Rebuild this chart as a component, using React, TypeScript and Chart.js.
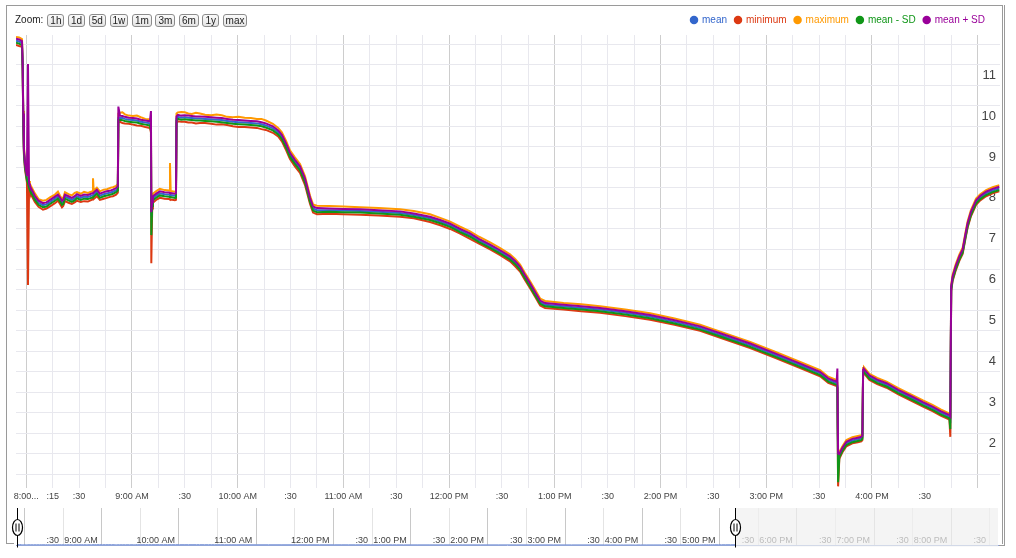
import React, { useEffect, useRef } from "react";
import { Chart, registerables } from "chart.js";

Chart.register(...registerables);

const FONT = 'Arial, "Liberation Sans", sans-serif';

// time in minutes since midnight
const TIME_MIN = [
  474.2, 476.0, 477.6, 478.0, 478.3, 478.7, 479.3, 480.4, 481.0, 481.6,
  482.1, 484.9, 487.0, 489.5, 491.5, 493.5, 496.3, 498.0, 499.2, 500.3,
  501.0, 502.0, 504.0, 505.9, 507.5, 508.8, 511.0, 512.8, 515.0, 517.5, 517.9, 518.3,
  520.1, 521.8, 524.0, 525.8, 528.0, 529.2, 531.0, 532.0, 532.3, 533.2, 534.6,
  536.0, 538.2, 540.6, 542.8, 545.0, 547.6, 550.2, 550.8, 551.0, 551.5, 551.9, 554.0, 555.9,
  558.5, 561.2, 561.6, 562.0, 564.4, 565.0, 565.3, 566.1, 568.0, 570.0, 572.0, 574.0, 576.3, 578.6, 581.5, 585.0, 588.0,
  591.0, 594.0, 597.3, 600.5, 604.0, 607.5, 610.9, 613.5, 616.0, 620.0, 623.0, 625.1, 627.5, 629.7,
  632.5, 635.4, 638.2, 641.1, 642.8, 645.0, 652.0, 660.0, 669.5, 680.0,
  692.2, 700.0, 709.2, 715.0, 720.6, 726.0, 731.9, 737.0, 743.3, 749.0,
  754.6, 757.5, 760.3, 763.0, 766.0, 769.0, 771.7, 774.5, 785.0, 795.0,
  805.7, 820.0, 834.1, 848.0, 862.5, 876.0, 890.9, 905.0, 919.3, 930.6,
  935.2, 940.0, 940.4, 940.8, 941.5, 943.1, 945.5, 948.9, 952.0, 954.0,
  954.6, 955.0, 955.5, 958.6, 963.0, 968.3, 975.0, 983.0, 989.0, 994.4,
  999.0, 1004.0, 1004.5, 1005.0, 1005.8, 1007.6, 1009.6, 1011.5, 1013.0, 1014.3,
  1016.2, 1019.1, 1021.5, 1024.8, 1028.5, 1032.3,
];

const MEAN = [
  11.84, 11.82, 11.78, 11.20, 10.00, 9.15, 8.80, 8.48, 8.40, 8.30,
  8.24, 8.00, 7.88, 7.82, 7.84, 7.90, 7.98, 8.03, 7.96, 7.88,
  7.90, 8.03, 7.99, 7.95, 7.99, 8.04, 8.00, 8.03, 8.02, 8.06, 8.07, 8.08,
  8.15, 8.05, 8.09, 8.11, 8.13, 8.15, 8.19, 8.23, 9.95, 9.96, 9.95,
  9.93, 9.91, 9.90, 9.89, 9.86, 9.84, 9.82, 9.70, 7.55, 7.85, 7.99, 8.06, 8.11,
  8.09, 8.08, 8.07, 8.07, 8.05, 8.06, 9.94, 9.98, 9.96, 9.97, 9.96, 9.95, 9.94, 9.94, 9.93, 9.92, 9.91,
  9.90, 9.88, 9.86, 9.85, 9.84, 9.83, 9.82, 9.80, 9.77, 9.70, 9.60, 9.49, 9.28, 9.05,
  8.88, 8.72, 8.43, 7.95, 7.74, 7.70, 7.70, 7.69, 7.68, 7.66,
  7.63, 7.58, 7.50, 7.42, 7.33, 7.21, 7.09, 6.96, 6.82, 6.68,
  6.53, 6.42, 6.28, 6.08, 5.87, 5.65, 5.45, 5.39, 5.35, 5.31,
  5.27, 5.19, 5.10, 4.97, 4.82, 4.62, 4.40, 4.16, 3.91, 3.71,
  3.55, 3.47, 3.40, 1.55, 1.70, 1.84, 2.00, 2.07, 2.10, 2.12,
  2.15, 3.76, 3.78, 3.62, 3.52, 3.43, 3.27, 3.10, 2.97, 2.86,
  2.75, 2.65, 2.60, 5.79, 6.04, 6.30, 6.53, 6.70, 7.05, 7.34,
  7.62, 7.90, 8.01, 8.11, 8.18, 8.23,
];

const MINIMUM = [
  11.74, 11.71, 11.69, 11.10, 9.90, 9.05, 8.70, 8.38, 5.87, 8.20,
  8.13, 7.90, 7.78, 7.71, 7.74, 7.79, 7.87, 7.93, 7.85, 7.77,
  7.80, 7.92, 7.88, 7.85, 7.89, 7.93, 7.90, 7.92, 7.91, 7.96, 7.97, 7.97,
  8.04, 7.95, 7.98, 8.00, 8.03, 8.04, 8.08, 8.13, 9.84, 9.86, 9.83,
  9.82, 9.81, 9.79, 9.77, 9.76, 9.73, 9.71, 9.60, 6.40, 7.74, 7.88, 7.96, 8.00,
  7.98, 7.97, 7.96, 7.96, 7.94, 7.95, 9.83, 9.87, 9.86, 9.86, 9.84, 9.84, 9.82, 9.83, 9.83, 9.81, 9.79,
  9.80, 9.78, 9.75, 9.73, 9.73, 9.72, 9.71, 9.68, 9.66, 9.59, 9.50, 9.38, 9.17, 8.95,
  8.77, 8.61, 8.32, 7.85, 7.64, 7.60, 7.61, 7.60, 7.59, 7.57,
  7.54, 7.50, 7.41, 7.33, 7.24, 7.13, 7.00, 6.88, 6.74, 6.60,
  6.45, 6.33, 6.20, 6.00, 5.79, 5.57, 5.37, 5.31, 5.27, 5.23,
  5.19, 5.11, 5.02, 4.90, 4.75, 4.55, 4.33, 4.09, 3.84, 3.64,
  3.48, 3.40, 3.33, 0.95, 1.62, 1.77, 1.93, 2.00, 2.03, 2.05,
  2.08, 3.69, 3.71, 3.55, 3.45, 3.36, 3.20, 3.03, 2.90, 2.79,
  2.68, 2.58, 2.16, 5.72, 5.97, 6.23, 6.46, 6.63, 6.98, 7.27,
  7.55, 7.83, 7.94, 8.04, 8.11, 8.16,
];

const MAXIMUM = [
  11.93, 11.92, 11.88, 11.30, 10.12, 9.25, 8.90, 8.58, 8.50, 8.41,
  8.34, 8.11, 7.97, 7.93, 7.95, 8.01, 8.08, 8.15, 8.05, 7.98,
  8.00, 8.14, 8.09, 8.06, 8.12, 8.14, 8.10, 8.15, 8.12, 8.16, 8.48, 8.18,
  8.25, 8.16, 8.20, 8.21, 8.25, 8.26, 8.29, 8.34, 10.06, 10.08, 10.09,
  10.04, 10.01, 10.00, 10.01, 9.97, 9.93, 9.92, 9.80, 7.75, 7.95, 8.10, 8.17, 8.22,
  8.19, 8.18, 8.85, 8.17, 8.15, 8.16, 10.06, 10.09, 10.10, 10.09, 10.06, 10.05, 10.08, 10.06, 10.03, 10.02, 10.04,
  10.02, 9.98, 9.97, 9.98, 9.96, 9.95, 9.93, 9.93, 9.89, 9.81, 9.71, 9.60, 9.39, 9.16,
  8.99, 8.83, 8.53, 8.05, 7.84, 7.81, 7.80, 7.79, 7.77, 7.75,
  7.72, 7.68, 7.60, 7.51, 7.42, 7.30, 7.18, 7.05, 6.91, 6.77,
  6.62, 6.51, 6.37, 6.17, 5.96, 5.74, 5.54, 5.48, 5.43, 5.40,
  5.35, 5.27, 5.18, 5.05, 4.90, 4.70, 4.48, 4.24, 3.99, 3.79,
  3.63, 3.55, 3.48, 1.85, 1.78, 1.92, 2.08, 2.15, 2.18, 2.20,
  2.23, 3.84, 3.86, 3.70, 3.60, 3.51, 3.35, 3.18, 3.05, 2.94,
  2.83, 2.73, 2.70, 5.87, 6.12, 6.38, 6.61, 6.78, 7.13, 7.42,
  7.70, 7.98, 8.09, 8.19, 8.26, 8.31,
];

const MEAN_MINUS_SD = [
  11.79, 11.77, 11.73, 11.15, 9.95, 9.10, 8.75, 8.43, 8.35, 8.25,
  8.19, 7.95, 7.83, 7.77, 7.79, 7.85, 7.93, 7.98, 7.91, 7.83,
  7.85, 7.98, 7.94, 7.90, 7.94, 7.99, 7.95, 7.98, 7.97, 8.01, 8.02, 8.03,
  8.10, 8.00, 8.04, 8.06, 8.08, 8.10, 8.14, 8.18, 9.90, 9.91, 9.90,
  9.88, 9.86, 9.85, 9.84, 9.81, 9.79, 9.77, 9.65, 7.09, 7.80, 7.94, 8.01, 8.06,
  8.04, 8.03, 8.02, 8.02, 8.00, 8.01, 9.89, 9.93, 9.91, 9.92, 9.91, 9.90, 9.89, 9.89, 9.88, 9.87, 9.86,
  9.85, 9.83, 9.81, 9.80, 9.79, 9.78, 9.77, 9.75, 9.72, 9.65, 9.55, 9.44, 9.23, 9.00,
  8.83, 8.67, 8.38, 7.90, 7.69, 7.65, 7.66, 7.65, 7.64, 7.62,
  7.59, 7.54, 7.46, 7.38, 7.29, 7.17, 7.05, 6.92, 6.78, 6.64,
  6.49, 6.38, 6.24, 6.04, 5.83, 5.61, 5.41, 5.35, 5.31, 5.27,
  5.23, 5.15, 5.06, 4.93, 4.78, 4.58, 4.36, 4.12, 3.87, 3.67,
  3.51, 3.43, 3.36, 1.05, 1.66, 1.80, 1.96, 2.03, 2.06, 2.08,
  2.11, 3.72, 3.74, 3.58, 3.48, 3.39, 3.23, 3.06, 2.93, 2.82,
  2.71, 2.61, 2.35, 5.75, 6.00, 6.26, 6.49, 6.66, 7.01, 7.30,
  7.58, 7.86, 7.97, 8.07, 8.14, 8.19,
];

const MEAN_PLUS_SD = [
  11.89, 11.87, 11.83, 11.25, 10.06, 9.20, 8.85, 8.53, 11.27, 8.35,
  8.29, 8.05, 7.93, 7.87, 7.89, 7.95, 8.03, 8.08, 8.01, 7.93,
  7.95, 8.08, 8.04, 8.00, 8.04, 8.09, 8.05, 8.08, 8.07, 8.11, 8.12, 8.13,
  8.20, 8.10, 8.14, 8.16, 8.18, 8.20, 8.24, 8.28, 10.23, 10.01, 10.00,
  9.98, 9.96, 9.95, 9.94, 9.91, 9.89, 9.87, 10.12, 7.65, 7.90, 8.04, 8.11, 8.16,
  8.14, 8.13, 8.12, 8.12, 8.10, 8.11, 9.99, 10.03, 10.01, 10.02, 10.01, 10.00, 9.99, 9.99, 9.98, 9.97, 9.96,
  9.95, 9.93, 9.91, 9.90, 9.89, 9.88, 9.87, 9.85, 9.82, 9.75, 9.65, 9.54, 9.33, 9.10,
  8.93, 8.77, 8.48, 8.00, 7.79, 7.75, 7.74, 7.73, 7.72, 7.70,
  7.67, 7.62, 7.54, 7.46, 7.37, 7.25, 7.13, 7.00, 6.86, 6.72,
  6.57, 6.46, 6.32, 6.12, 5.91, 5.69, 5.49, 5.43, 5.39, 5.35,
  5.31, 5.23, 5.14, 5.01, 4.86, 4.66, 4.44, 4.20, 3.95, 3.75,
  3.59, 3.51, 3.83, 1.75, 1.74, 1.88, 2.04, 2.11, 2.14, 2.16,
  2.19, 3.80, 3.82, 3.66, 3.56, 3.47, 3.31, 3.14, 3.01, 2.90,
  2.79, 2.69, 2.66, 5.83, 6.08, 6.34, 6.57, 6.74, 7.09, 7.38,
  7.66, 7.94, 8.05, 8.15, 8.22, 8.27,
];

const SERIES_NAMES = ["mean", "minimum", "maximum", "mean - SD", "mean + SD"];
const SERIES_COLORS = ["#3366cc", "#dc3912", "#ff9900", "#109618", "#990099"];

// main x axis labels (minutes since midnight -> text)
const MAIN_X_LABELS: [number, string][] = [
  [480, "8:00..."], [495, ":15"], [510, ":30"], [540, "9:00 AM"], [570, ":30"],
  [600, "10:00 AM"], [630, ":30"], [660, "11:00 AM"], [690, ":30"], [720, "12:00 PM"],
  [750, ":30"], [780, "1:00 PM"], [810, ":30"], [840, "2:00 PM"], [870, ":30"],
  [900, "3:00 PM"], [930, ":30"], [960, "4:00 PM"], [990, ":30"],
];

// navigator labels
const NAV_X_LABELS: [number, string][] = [
  [510, ":30"], [540, "9:00 AM"], [600, "10:00 AM"], [660, "11:00 AM"], [720, "12:00 PM"],
  [750, ":30"], [780, "1:00 PM"], [810, ":30"], [840, "2:00 PM"], [870, ":30"],
  [900, "3:00 PM"], [930, ":30"], [960, "4:00 PM"], [990, ":30"], [1020, "5:00 PM"],
  [1050, ":30"], [1080, "6:00 PM"], [1110, ":30"], [1140, "7:00 PM"], [1170, ":30"],
  [1200, "8:00 PM"], [1230, ":30"],
];

const Y_LABELS = [2, 3, 4, 5, 6, 7, 8, 9, 10, 11];
const ZOOM_BUTTONS = ["1h", "1d", "5d", "1w", "1m", "3m", "6m", "1y", "max"];

const MAIN_X_MIN = 474.2;
const MAIN_X_MAX = 1032.7;
const NAV_X_MIN = 473.4;
const NAV_X_MAX = 1236.3;

function range(a: number, b: number, step: number) {
  const out: number[] = [];
  for (let v = a; v <= b + 1e-9; v += step) out.push(Math.round(v * 100) / 100);
  return out;
}

const legendShift = {
  id: "legendShift",
  afterLayout(chart: any) {
    if (chart.legend) chart.legend.right = chart.chartArea.right - 7;
  },
};

const navOverlay = {
  id: "navOverlay",
  afterDraw(chart: any) {
    const { ctx, chartArea, scales } = chart;
    const xs = scales.x.getPixelForValue(TIME_MIN[0]);
    const xe = scales.x.getPixelForValue(TIME_MIN[TIME_MIN.length - 1]);
    ctx.save();
    ctx.fillStyle = "rgba(240,240,240,0.7)";
    ctx.fillRect(xe, chartArea.top, chartArea.right - xe, chartArea.bottom - chartArea.top + 1.5);
    for (const hx of [xs, xe]) {
      const px = Math.round(hx) + 0.5;
      ctx.strokeStyle = "#000";
      ctx.lineWidth = 1;
      ctx.beginPath();
      ctx.moveTo(px, chartArea.top);
      ctx.lineTo(px, chartArea.bottom + 2.5);
      ctx.stroke();
      const cy = chartArea.top + 19.5;
      ctx.beginPath();
      ctx.ellipse(px, cy, 5, 8, 0, 0, Math.PI * 2);
      ctx.fillStyle = "#fff";
      ctx.fill();
      ctx.lineWidth = 1.2;
      ctx.stroke();
      ctx.lineWidth = 1;
      ctx.beginPath();
      ctx.moveTo(px - 1.5, cy - 4);
      ctx.lineTo(px - 1.5, cy + 4);
      ctx.moveTo(px + 1.5, cy - 4);
      ctx.lineTo(px + 1.5, cy + 4);
      ctx.stroke();
    }
    ctx.restore();
  },
};

export default function App() {
  const mainRef = useRef<HTMLCanvasElement | null>(null);
  const navRef = useRef<HTMLCanvasElement | null>(null);

  useEffect(() => {
    const seriesValues = [MEAN, MINIMUM, MAXIMUM, MEAN_MINUS_SD, MEAN_PLUS_SD];
    const pts = (ys: number[]) => TIME_MIN.map((t, i) => ({ x: t, y: ys[i] }));
    // drawn top-first: mean + SD, mean - SD, mean, minimum, maximum
    const drawOrder = [4, 3, 0, 1, 2];
    const mainLabelMap = new Map(MAIN_X_LABELS.map(([v, s]) => [v, s]));
    const navLabelMap = new Map(NAV_X_LABELS.map(([v, s]) => [v, s]));

    const main = new Chart(mainRef.current as HTMLCanvasElement, {
      type: "line",
      data: {
        datasets: drawOrder.map((i) => ({
          label: SERIES_NAMES[i],
          data: pts(seriesValues[i]),
          borderColor: SERIES_COLORS[i],
          backgroundColor: SERIES_COLORS[i],
          borderWidth: 2,
          pointRadius: 0,
          tension: 0,
          fill: false,
        })),
      },
      options: {
        animation: false,
        responsive: false,
        events: [],
        layout: { padding: { left: 16, right: 16, top: 7, bottom: 0 }, autoPadding: false },
        plugins: {
          tooltip: { enabled: false },
          legend: {
            display: true,
            position: "top",
            align: "end",
            fullSize: false,
            labels: {
              usePointStyle: true,
              pointStyle: "circle",
              boxWidth: 6,
              boxHeight: 6,
              padding: 8,
              font: { size: 10, family: FONT },
              generateLabels: () =>
                SERIES_NAMES.map((name, i) => ({
                  text: name,
                  fillStyle: SERIES_COLORS[i],
                  strokeStyle: SERIES_COLORS[i],
                  fontColor: SERIES_COLORS[i],
                  lineWidth: 0,
                  pointStyle: "circle",
                  hidden: false,
                  datasetIndex: drawOrder.indexOf(i),
                })),
            },
          },
        },
        scales: {
          x: {
            type: "linear",
            min: MAIN_X_MIN,
            max: MAIN_X_MAX,
            afterBuildTicks: (scale: any) => {
              scale.ticks = range(480, 1020, 15).map((v) => ({ value: v }));
            },
            grid: {
              color: (ctx: any) => (ctx.tick && ctx.tick.value % 60 === 0 ? "#cdcdcd" : "#e8e8ee"),
              drawTicks: false,
              lineWidth: 1,
            },
            border: { display: false },
            ticks: {
              autoSkip: false,
              maxRotation: 0,
              minRotation: 0,
              padding: 3.6,
              color: "#444",
              font: { size: 9, family: FONT },
              callback: (v: any) => mainLabelMap.get(Number(v)) ?? "",
            },
          },
          y: {
            type: "linear",
            position: "right",
            min: 0.91,
            max: 11.98,
            afterBuildTicks: (scale: any) => {
              scale.ticks = range(1.25, 11.75, 0.25).map((v) => ({ value: v }));
            },
            grid: {
              color: (ctx: any) => {
                const v = ctx.tick ? ctx.tick.value : 0;
                const q = Math.round(v * 4);
                return q % 2 === 1 ? "#e8e8ee" : "rgba(0,0,0,0)";
              },
              drawTicks: false,
              lineWidth: 1,
            },
            border: { display: false },
            ticks: {
              autoSkip: false,
              mirror: true,
              padding: -4,
              color: "#444",
              font: { size: 13, family: FONT },
              callback: (v: any) => {
                const n = Number(v);
                return Y_LABELS.includes(n) ? String(n) : "";
              },
            },
          },
        },
      } as any,
      plugins: [legendShift],
    });

    const nav = new Chart(navRef.current as HTMLCanvasElement, {
      type: "line",
      data: {
        datasets: [
          {
            label: SERIES_NAMES[0],
            data: pts(MEAN),
            borderColor: "#7f99d8",
            borderWidth: 1,
            pointRadius: 0,
            tension: 0,
            fill: false,
          },
        ],
      },
      options: {
        animation: false,
        responsive: false,
        events: [],
        layout: { padding: { left: 16, right: 18, top: 5, bottom: 5 }, autoPadding: false },
        plugins: { legend: { display: false }, tooltip: { enabled: false } },
        scales: {
          x: {
            type: "linear",
            min: NAV_X_MIN,
            max: NAV_X_MAX,
            afterBuildTicks: (scale: any) => {
              scale.ticks = range(480, 1230, 30).map((v) => ({ value: v }));
            },
            grid: {
              color: (ctx: any) => (ctx.tick && ctx.tick.value % 60 === 0 ? "#c8c8c8" : "#e4e4e4"),
              drawTicks: false,
            },
            border: { display: true, color: "#8ea3d8", width: 1 },
            ticks: {
              autoSkip: false,
              maxRotation: 0,
              minRotation: 0,
              align: "end",
              labelOffset: -4,
              padding: -9.4,
              color: "#444",
              font: { size: 9, family: FONT },
              callback: (v: any) => navLabelMap.get(Number(v)) ?? "",
            },
          },
          y: { display: false, min: 0, max: 1000 },
        },
      } as any,
      plugins: [navOverlay],
    });

    return () => {
      main.destroy();
      nav.destroy();
    };
  }, []);

  const frame = "#9a9a9a";
  return (
    <div style={{ position: "absolute", left: 0, top: 0, width: 1016, height: 558, background: "#fff", fontFamily: FONT, overflow: "hidden" }}>
      {/* outer frame */}
      <div style={{ position: "absolute", left: 6, top: 5, width: 995, height: 538, borderLeft: `1px solid ${frame}`, borderTop: `1px solid ${frame}`, borderRight: `1px solid ${frame}` }} />
      <div style={{ position: "absolute", left: 1004, top: 5, width: 1, height: 541, background: frame }} />
      <div style={{ position: "absolute", left: 6, top: 543, width: 8, height: 1, background: frame }} />
      <div style={{ position: "absolute", left: 999, top: 545, width: 6, height: 1, background: frame }} />

      <canvas ref={mainRef} width={1016} height={506} style={{ position: "absolute", left: 0, top: 0, width: 1016, height: 506 }} />
      <canvas ref={navRef} width={1016} height={47} style={{ position: "absolute", left: 0, top: 503, width: 1016, height: 47 }} />

      {/* zoom buttons */}
      <div style={{ position: "absolute", left: 15, top: 13, height: 14, display: "flex", alignItems: "center", fontSize: 10, color: "#222" }}>
        <span style={{ marginRight: 4, lineHeight: "12px" }}>Zoom:</span>
        {ZOOM_BUTTONS.map((b) => (
          <span
            key={b}
            style={{
              display: "inline-block",
              height: 11,
              lineHeight: "11px",
              padding: "0 2px",
              marginRight: 3.6,
              border: "1px solid #8c8c8c",
              borderRadius: 3,
              background: "linear-gradient(#fbfbfb, #e4e4e4)",
              color: "#222",
              fontSize: 10,
            }}
          >
            {b}
          </span>
        ))}
      </div>
    </div>
  );
}
